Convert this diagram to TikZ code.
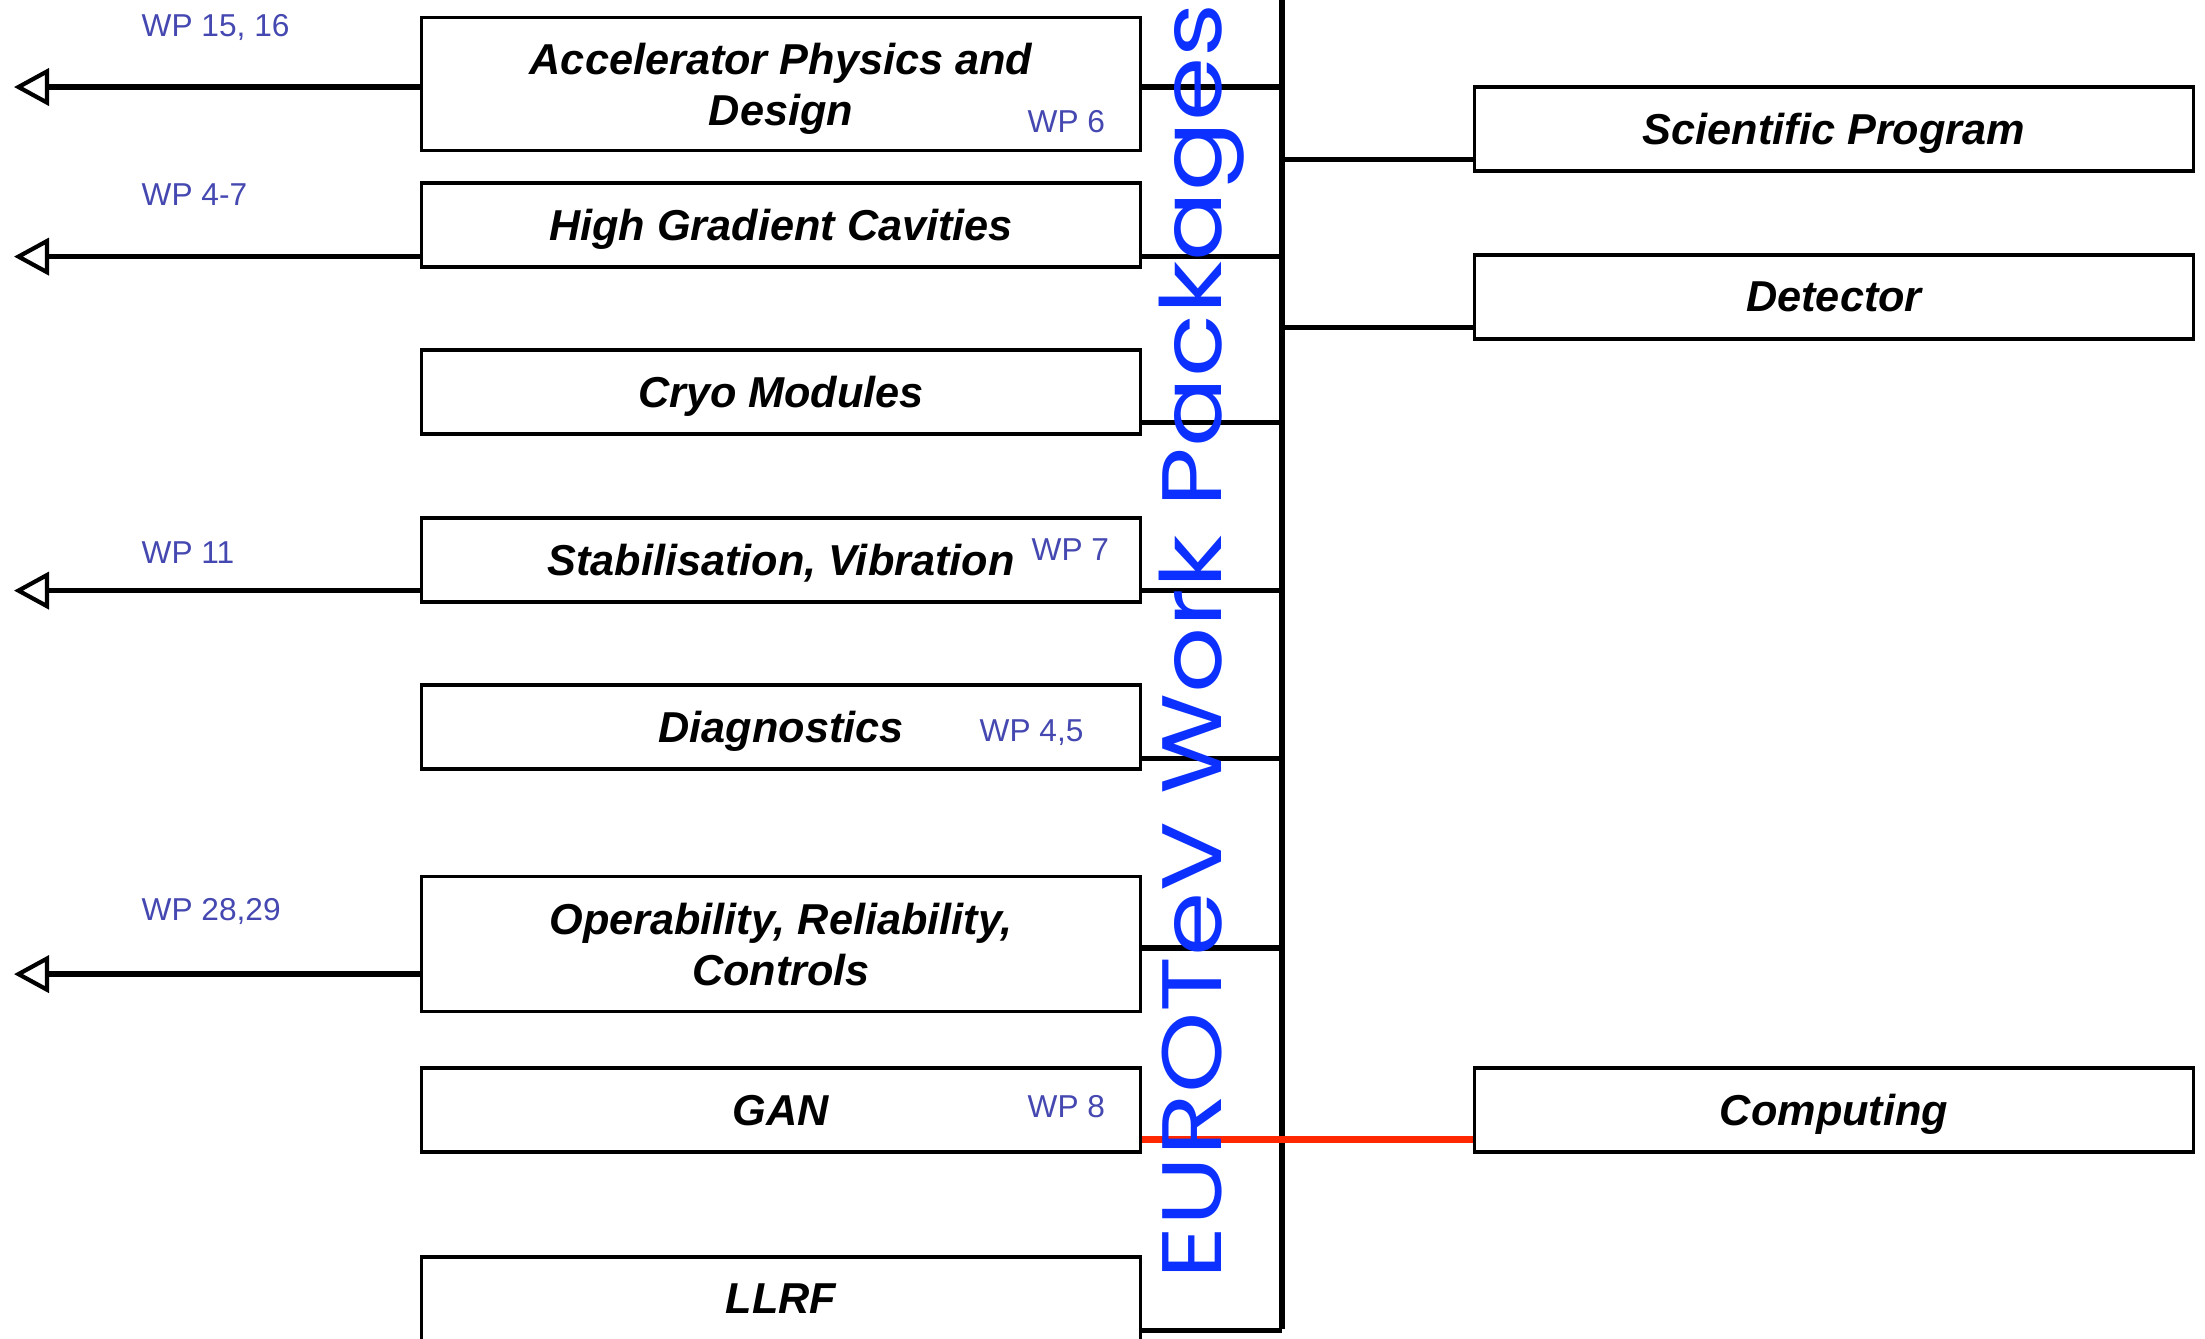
\documentclass[tikz,border=0pt]{standalone}
\usepackage{fontspec}
\setmainfont{Liberation Sans}
\newfontfamily\handfont{Poppins}
\usepackage{xcolor}
\definecolor{WPBlue}{RGB}{68,72,176}
\definecolor{HandBlue}{RGB}{12,48,255}
\definecolor{LinkRed}{RGB}{255,40,0}
\usetikzlibrary{arrows.meta, positioning, calc}

\begin{document}
\begin{tikzpicture}[x=0.01cm, y=-0.01cm,
	wpbox/.style={draw, line width=0.9pt, fill=white, minimum width=7.18cm,
		minimum height=0.84cm, inner sep=0pt, align=center, text depth=0pt,
		font=\fontsize{12.3}{14.5}\selectfont\bfseries\itshape},
	wplabel/.style={anchor=west, inner sep=0pt, text=WPBlue,
		font=\fontsize{9}{10}\selectfont},
	link/.style={line width=1.5pt},
	outlink/.style={line width=1.5pt,
		-{Triangle[open, length=0.35cm, width=0.37cm, line width=1.2pt]}}]
	\useasboundingbox (0,0) rectangle (2205,1338);

	% work package boxes
	\node[wpbox, minimum height=1.33cm] (acc) at (781,84) {Accelerator Physics and\\Design};
	\node[wpbox] (hgc) at (781,225) {High Gradient Cavities};
	\node[wpbox] (cryo) at (781,392) {Cryo Modules};
	\node[wpbox] (stab) at (781,560) {Stabilisation, Vibration};
	\node[wpbox] (diag) at (781,727) {Diagnostics};
	\node[wpbox, minimum height=1.35cm] (oper) at (781,944) {Operability, Reliability,\\Controls};
	\node[wpbox] (gan) at (781,1110) {GAN};
	\node[wpbox] (llrf) at (781,1299) {LLRF};

	\node[wpbox] (sci) at (1834,129) {Scientific Program};
	\node[wpbox] (det) at (1834,297) {Detector};
	\node[wpbox] (comp) at (1834,1110) {Computing};

	% bus and tap points
	\coordinate (bustop) at (1282,0);
	\coordinate (busbot) at (1282,1329);
	\coordinate (edge) at (14,0);
	\path ([yshift=-0.03cm]acc.east) coordinate (acc-r)
		([yshift=-0.03cm]acc.west) coordinate (acc-l)
		([yshift=0.12cm]hgc.south east) coordinate (hgc-r)
		([yshift=0.12cm]hgc.south west) coordinate (hgc-l)
		([yshift=0.13cm]cryo.south east) coordinate (cryo-r)
		([yshift=0.13cm]stab.south east) coordinate (stab-r)
		([yshift=0.13cm]stab.south west) coordinate (stab-l)
		([yshift=0.12cm]diag.south east) coordinate (diag-r)
		([yshift=-0.04cm]oper.east) coordinate (oper-r)
		([yshift=0.39cm]oper.south west) coordinate (oper-l)
		([yshift=0.14cm]gan.south east) coordinate (gan-r)
		([yshift=0.12cm]llrf.south east) coordinate (llrf-r)
		([yshift=0.13cm]sci.south west) coordinate (sci-l)
		([yshift=0.13cm]det.south west) coordinate (det-l)
		([yshift=0.14cm]comp.south west) coordinate (comp-l);

	\draw[line width=1.8pt] (bustop) -- (busbot);
	\draw[link] (acc-r) -- (acc-r -| bustop);
	\draw[link] (hgc-r) -- (hgc-r -| bustop);
	\draw[link] (cryo-r) -- (cryo-r -| bustop);
	\draw[link] (stab-r) -- (stab-r -| bustop);
	\draw[link] (diag-r) -- (diag-r -| bustop);
	\draw[link] (oper-r) -- (oper-r -| bustop);
	\draw[link] (llrf-r) -- (llrf-r -| bustop);
	\draw[link] (sci-l -| bustop) -- (sci-l);
	\draw[link] (det-l -| bustop) -- (det-l);
	\draw[link, line width=1.8pt, LinkRed] (gan-r) -- (comp-l);

	% links to other work packages
	\draw[outlink] (acc-l) -- (acc-l -| edge);
	\draw[outlink] (hgc-l) -- (hgc-l -| edge);
	\draw[outlink] (stab-l) -- (stab-l -| edge);
	\draw[outlink] (oper-l) -- (oper-l -| edge);

	\node[wplabel] (wp1516) at (141,27) {WP 15, 16};
	\node[wplabel] (wp47) at (141,195) {WP 4-7};
	\node[wplabel] (wp11) at (141,553) {WP 11};
	\node[wplabel] (wp2829) at (141,911) {WP 28,29};
	\node[wplabel] (wp6) at (1027,122) {WP 6};
	\node[wplabel] (wp7) at (1031,550) {WP 7};
	\node[wplabel] (wp45) at (979,733) {WP 4,5};
	\node[wplabel] (wp8) at (1027,1107) {WP 8};

	\node[rotate=90, anchor=base west, inner sep=0pt, text=HandBlue, font=\handfont]
		(euro) at (1221,1280) {\resizebox{12.75cm}{\height}{\fontsize{24}{24}\selectfont EUROTeV Work Packages}};
\end{tikzpicture}
\end{document}
